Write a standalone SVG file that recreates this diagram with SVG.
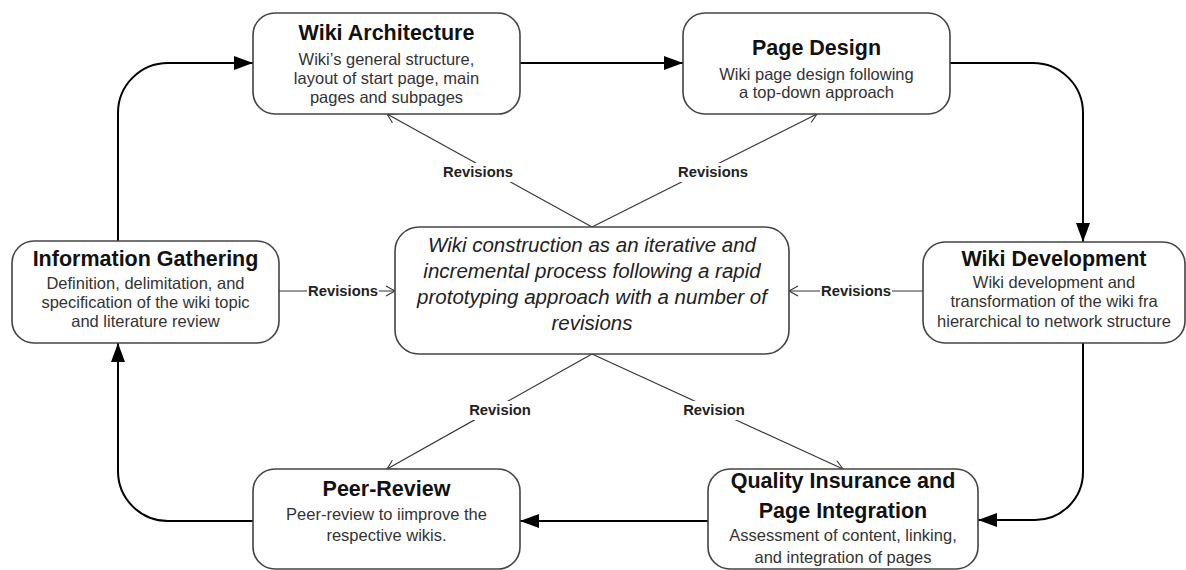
<svg xmlns="http://www.w3.org/2000/svg" width="1186" height="570" viewBox="0 0 1186 570">
<style>
.box{fill:#fff;stroke:#444;stroke-width:1.6}
.t{font-family:"Liberation Sans",Arial,sans-serif;font-weight:bold;font-size:21.5px;fill:#111;text-anchor:middle}
.s{font-family:"Liberation Sans",Arial,sans-serif;font-size:16.5px;fill:#333;text-anchor:middle}
.c{font-family:"Liberation Sans",Arial,sans-serif;font-style:italic;font-size:20.5px;fill:#222;text-anchor:middle}
.flow{fill:none;stroke:#000;stroke-width:2;marker-end:url(#solid)}
.rev{fill:none;stroke:#333;stroke-width:1.1;marker-end:url(#open)}
.lb{font-family:"Liberation Sans",Arial,sans-serif;font-weight:bold;font-size:14.8px;fill:#222;text-anchor:middle}
.bg{fill:#fff}
</style>
<defs>
<marker id="solid" markerUnits="userSpaceOnUse" markerWidth="20" markerHeight="14" refX="19" refY="7" orient="auto">
<path d="M0,0 L19,7 L0,14 Z" fill="#000"/>
</marker>
<marker id="open" markerUnits="userSpaceOnUse" markerWidth="12" markerHeight="12" refX="10" refY="6" orient="auto">
<path d="M1,1 L10,6 L1,11" fill="none" stroke="#333" stroke-width="1.1"/>
</marker>
</defs>
<rect width="1186" height="570" fill="#fff"/>
<g id="connectors">
<path class="flow" d="M118,241 V113 A50,50 0 0 1 168,63 H253"/>
<path class="flow" d="M520,63 H683"/>
<path class="flow" d="M950,63 H1033 A50,50 0 0 1 1083,113 V242"/>
<path class="flow" d="M1083,343 V472 A48,48 0 0 1 1035,520 H978"/>
<path class="flow" d="M708,521 H520"/>
<path class="flow" d="M253,521 H168 A50,50 0 0 1 118,471 V343"/>
<path class="rev" d="M592,227 L387,114"/>
<path class="rev" d="M592,227 L817,114"/>
<path class="rev" d="M592,354 L387,469"/>
<path class="rev" d="M592,354 L843,469"/>
<path class="rev" d="M279,291 H395"/>
<path class="rev" d="M923,291 H789"/>
<g id="labels">
<rect class="bg" x="441" y="163" width="74" height="19"/>
<text class="lb" x="478" y="177">Revisions</text>
<rect class="bg" x="676" y="163" width="74" height="19"/>
<text class="lb" x="713" y="177">Revisions</text>
<rect class="bg" x="466" y="401" width="68" height="19"/>
<text class="lb" x="500" y="415">Revision</text>
<rect class="bg" x="680" y="401" width="68" height="19"/>
<text class="lb" x="714" y="415">Revision</text>
<rect class="bg" x="307" y="282" width="72" height="18"/>
<text class="lb" x="343" y="296">Revisions</text>
<rect class="bg" x="820" y="282" width="72" height="18"/>
<text class="lb" x="856" y="296">Revisions</text>
</g>
</g>
<g id="wiki-architecture">
<rect class="box" x="253" y="13" width="267" height="101" rx="22"/>
<text class="t" x="386.5" y="40">Wiki Architecture</text>
<text class="s" x="386.5" y="65">Wiki’s general structure,</text>
<text class="s" x="386.5" y="84">layout of start page, main</text>
<text class="s" x="386.5" y="103">pages and subpages</text>
</g>
<g id="page-design">
<rect class="box" x="683" y="13" width="267" height="101" rx="22"/>
<text class="t" x="816.5" y="55">Page Design</text>
<text class="s" x="816.5" y="80">Wiki page design following</text>
<text class="s" x="816.5" y="98">a top-down approach</text>
</g>
<g id="information-gathering">
<rect class="box" x="12" y="241" width="267" height="102" rx="22"/>
<text class="t" x="145.5" y="266">Information Gathering</text>
<text class="s" x="145.5" y="289">Definition, delimitation, and</text>
<text class="s" x="145.5" y="308">specification of the wiki topic</text>
<text class="s" x="145.5" y="327">and literature review</text>
</g>
<g id="center">
<rect class="box" x="395" y="227" width="394" height="127" rx="24"/>
<text class="c" x="592" y="252">Wiki construction as an iterative and</text>
<text class="c" x="592" y="278">incremental process following a rapid</text>
<text class="c" x="592" y="304">prototyping approach with a number of</text>
<text class="c" x="592" y="330">revisions</text>
</g>
<g id="wiki-development">
<rect class="box" x="923" y="242" width="262" height="101" rx="22"/>
<text class="t" x="1054" y="266">Wiki Development</text>
<text class="s" x="1054" y="288">Wiki development and</text>
<text class="s" x="1054" y="307">transformation of the wiki fra</text>
<text class="s" x="1054" y="327">hierarchical to network structure</text>
</g>
<g id="peer-review">
<rect class="box" x="253" y="469" width="267" height="100" rx="22"/>
<text class="t" x="386.5" y="496">Peer-Review</text>
<text class="s" x="386.5" y="520">Peer-review to iimprove the</text>
<text class="s" x="386.5" y="541">respective wikis.</text>
</g>
<g id="quality-insurance">
<rect class="box" x="708" y="469" width="270" height="100" rx="22"/>
<text class="t" x="843" y="488">Quality Insurance and</text>
<text class="t" x="843" y="518">Page Integration</text>
<text class="s" x="843" y="541">Assessment of content, linking,</text>
<text class="s" x="843" y="563">and integration of pages</text>
</g>
</svg>
